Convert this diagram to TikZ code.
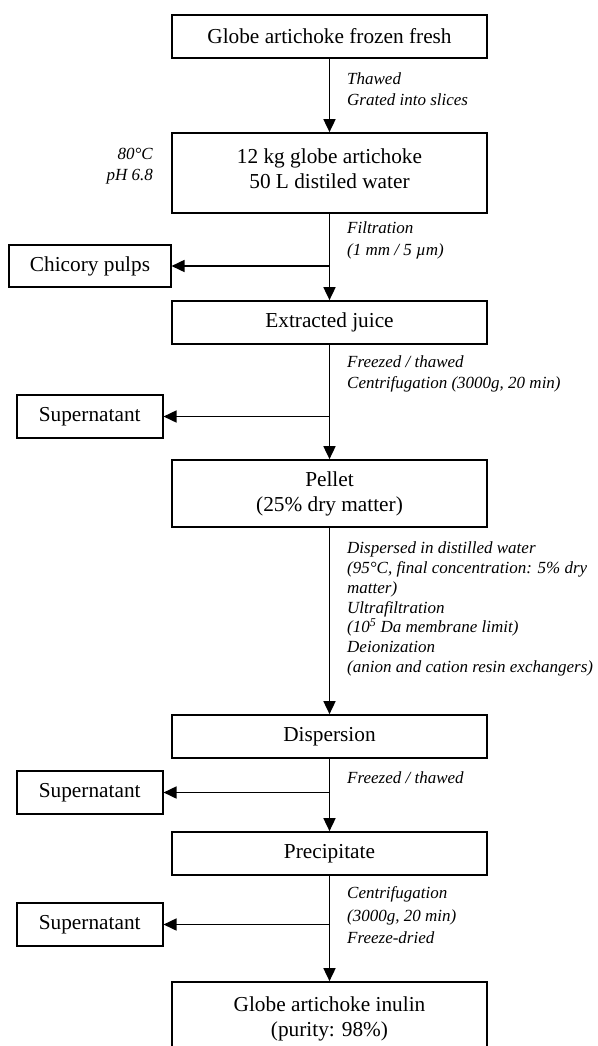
\documentclass[tikz,border=0pt]{standalone}
\usepackage{fontspec}
\setmainfont{Liberation Serif}
\usetikzlibrary{arrows.meta}
\begin{document}
\begin{tikzpicture}[x=1pt,y=-1pt,
 boxfont/.style={font=\fontsize{21.3}{25}\selectfont},
 box/.style={draw, line width=1.7pt, minimum width=315pt, minimum height=43pt, inner sep=0pt, align=center, boxfont},
 sidebox/.style={draw, line width=1.7pt, minimum height=43pt, inner sep=0pt, align=center, boxfont},
 note/.style={anchor=west, align=left, inner sep=0pt, font=\fontsize{17}{20.5}\selectfont\itshape},
 flow/.style={line width=1.7pt, -{Triangle[length=13pt,width=12pt]}}]
\useasboundingbox (0,0) rectangle (597,1046);
% main boxes
\node[box] (b1) at (329.5,36.5) {Globe artichoke frozen fresh};
\node[box, minimum height=80pt] (b2) at (329.5,173) {};
\node[boxfont, align=center, inner sep=0pt] (b2t) at (329.5,168.5) {12 kg globe artichoke\\50 L distiled water};
\node[box] (b3) at (329.5,322.5) {Extracted juice};
\node[box, minimum height=67pt] (b4) at (329.5,493.5) {Pellet\\(25\% dry matter)};
\node[box] (b5) at (329.5,736.5) {Dispersion};
\node[box] (b6) at (329.5,853.5) {Precipitate};
\node[box, minimum height=72pt] (b7) at (329.5,1018) {};
\node[boxfont, align=center, inner sep=0pt] (b7t) at (329.5,1018.5) {Globe artichoke inulin\\(purity: 98\%)};
% side boxes
\node[sidebox, minimum width=161.4pt, minimum height=42pt] (c1) at (90,266) {Chicory pulps};
\node[sidebox, minimum width=146pt] (s1) at (89.7,416.5) {Supernatant};
\node[sidebox, minimum width=146pt] (s2) at (89.7,792.5) {Supernatant};
\node[sidebox, minimum width=146pt] (s3) at (89.7,924.5) {Supernatant};
% junctions
\coordinate (j1) at (329.5,266);
\coordinate (j2) at (329.5,416.5);
\coordinate (j3) at (329.5,792.5);
\coordinate (j4) at (329.5,924.5);
% connectors
\draw[flow] (b1) -- (b2);
\draw[flow] (b2) -- (b3);
\draw[flow] (j1) -- (c1.east);
\draw[flow] (b3) -- (b4);
\draw[flow] (j2) -- (s1.east);
\draw[flow] (b4) -- (b5);
\draw[flow] (b5) -- (b6);
\draw[flow] (j3) -- (s2.east);
\draw[flow] (b6) -- (b7);
\draw[flow] (j4) -- (s3.east);
% notes
\node[note, anchor=east, align=right] (n0) at (153,166) {80°C\\pH 6.8};
\node[note] (n1) at (347,89) {Thawed\\Grated into slices};
\node[note, font=\fontsize{17}{22.5}\selectfont\itshape] (n2) at (347,240.5) {Filtration\\(1 mm / 5 µm)};
\node[note] (n3) at (347,374) {Freezed / thawed\\Centrifugation (3000g, 20 min)};
\node[note, font=\fontsize{17}{19.7}\selectfont\itshape] (n4) at (347,609) {Dispersed in distilled water\\(95°C, final concentration: 5\% dry\\matter)\\Ultrafiltration\\(10\textsuperscript{5} Da membrane limit)\\Deionization\\(anion and cation resin exchangers)};
\node[note] (n5) at (347,778) {Freezed / thawed};
\node[note, font=\fontsize{17}{22.5}\selectfont\itshape] (n6) at (347,915.5) {Centrifugation\\(3000g, 20 min)\\Freeze-dried};
\end{tikzpicture}
\end{document}
